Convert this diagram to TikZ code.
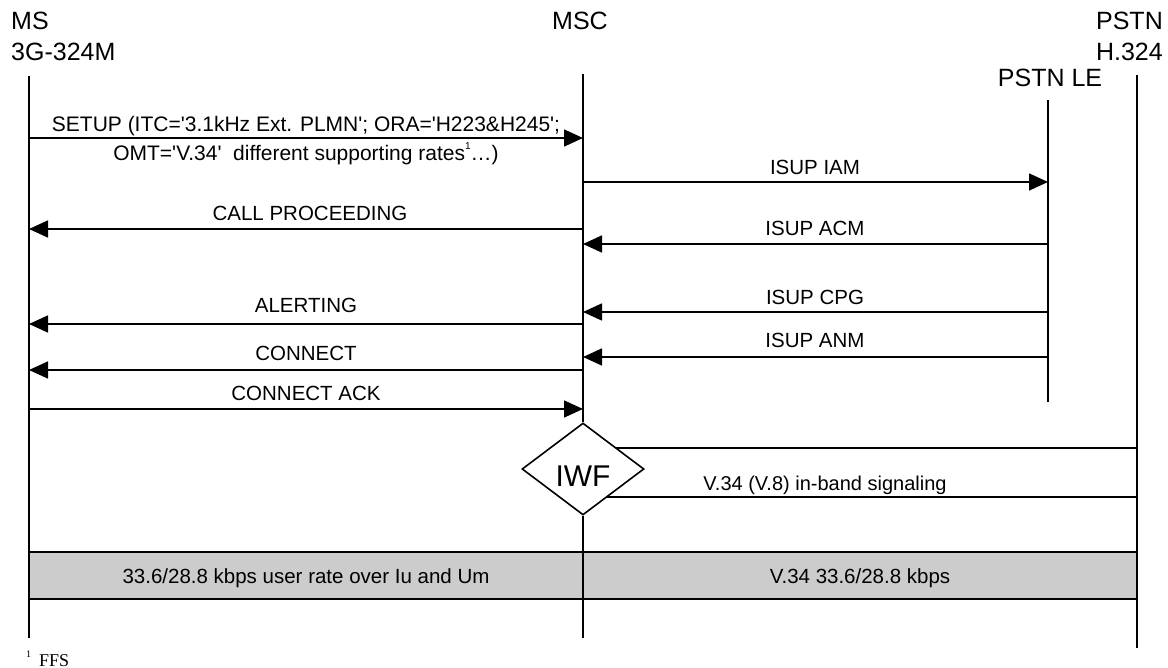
\documentclass[tikz,border=0pt]{standalone}
\usepackage{fontspec}
\setmainfont{Liberation Sans}
\newfontfamily\arialf{Liberation Sans}
\newfontfamily\ftserif{Liberation Serif}
\usetikzlibrary{arrows.meta,shapes.geometric}
\begin{document}
\begin{tikzpicture}[x=1pt,y=-1pt,
  life/.style={line width=1.7pt},
  msg/.style={line width=1.6pt,-{Triangle[length=19pt,width=17pt]}},
  lbl/.style={anchor=base,inner sep=0pt,font=\arialf\fontsize{20.5}{24}\selectfont},
  hdr/.style={inner sep=0pt,font=\arialf\fontsize{25}{30}\selectfont},
  boxline/.style={line width=1.6pt},
]
\useasboundingbox (0,0) rectangle (1168,668);

% grey bar
\coordinate (barTL) at (29,552);
\coordinate (barBR) at (1137,599);
\fill[black!20] (barTL) rectangle (barBR);
\draw[boxline] (barTL) -- (barTL -| barBR);
\draw[boxline] (barTL |- barBR) -- (barBR);
\node[lbl] (barL) at (306,583) {33.6/28.8 kbps user rate over Iu and Um};
\node[lbl] (barR) at (860,583) {V.34 33.6/28.8 kbps};

% headers
\node[hdr,anchor=base west] (msA) at (11,30) {MS};
\node[hdr,anchor=base west] (msB) at (11,61) {3G-324M};
\node[hdr,anchor=base] (mscH) at (580,30) {MSC};
\node[hdr,anchor=base east] (pstnA) at (1163,30) {PSTN};
\node[hdr,anchor=base east] (pstnB) at (1163,61) {H.324};
\node[hdr,anchor=base] (leH) at (1050,87) {PSTN LE};

% IWF
\node[diamond,draw,line width=1.6pt,minimum width=122pt,minimum height=92pt,inner sep=0pt,fill=white] (iwf) at (583,469) {};
\node[inner sep=0pt,anchor=base,font=\arialf\fontsize{30}{30}\selectfont] (iwft) at (583,486) {IWF};

% lifelines
\coordinate (msT) at (29,76);  \coordinate (msE) at (29,638);
\coordinate (mscT) at (583,74); \coordinate (mscE) at (583,638);
\coordinate (leT) at (1048,100); \coordinate (leE) at (1048,402);
\coordinate (psT) at (1137,75); \coordinate (psE) at (1137,648);
\draw[life] (msT) -- (msE);
\draw[life] (mscT) -- (iwf.north);
\draw[life] (iwf.south) -- (mscE);
\draw[life] (leT) -- (leE);
\draw[life] (psT) -- (psE);

% in-band box
\coordinate (rT) at (616,448);
\coordinate (rTR) at (1137,448);
\coordinate (rBR) at (1137,497);
\coordinate (rB) at (607,497);
\draw[boxline] (rT) -- (rTR) -- (rBR) -- (rB);
\node[lbl,font=\arialf\fontsize{20}{24}\selectfont] (inb) at (825,490) {V.34 (V.8) in-band signaling};

% messages
\coordinate (m1a) at (29,138);   \coordinate (m1b) at (583,138);
\draw[msg] (m1a) -- (m1b);
\node[lbl,font=\arialf\fontsize{21}{24}\selectfont] (l1a) at (306,132) {SETUP (ITC='3.1kHz Ext. PLMN'; ORA='H223\&H245';};
\node[lbl,font=\arialf\fontsize{21}{24}\selectfont] (l1b) at (306,161) {OMT='V.34'\ \ different supporting rates\raisebox{0.55em}{\fontsize{10}{10}\selectfont 1}…)};

\coordinate (m2a) at (583,182);  \coordinate (m2b) at (1048,182);
\draw[msg] (m2a) -- (m2b);
\node[lbl] (l2) at (815,175) {ISUP IAM};

\coordinate (m3a) at (583,229);  \coordinate (m3b) at (29,229);
\draw[msg] (m3a) -- (m3b);
\node[lbl] (l3) at (310,221) {CALL PROCEEDING};

\coordinate (m4a) at (1048,244); \coordinate (m4b) at (583,244);
\draw[msg] (m4a) -- (m4b);
\node[lbl] (l4) at (815,236) {ISUP ACM};

\coordinate (m5a) at (1048,312); \coordinate (m5b) at (583,312);
\draw[msg] (m5a) -- (m5b);
\node[lbl] (l5) at (815,305) {ISUP CPG};

\coordinate (m6a) at (583,324);  \coordinate (m6b) at (29,324);
\draw[msg] (m6a) -- (m6b);
\node[lbl] (l6) at (306,313) {ALERTING};

\coordinate (m7a) at (1048,357); \coordinate (m7b) at (583,357);
\draw[msg] (m7a) -- (m7b);
\node[lbl] (l7) at (815,348) {ISUP ANM};

\coordinate (m8a) at (583,370);  \coordinate (m8b) at (29,370);
\draw[msg] (m8a) -- (m8b);
\node[lbl] (l8) at (306,361) {CONNECT};

\coordinate (m9a) at (29,409);   \coordinate (m9b) at (583,409);
\draw[msg] (m9a) -- (m9b);
\node[lbl] (l9) at (306,400) {CONNECT ACK};

% footnote
\node[inner sep=0pt,anchor=base west,font=\ftserif\fontsize{10}{12}\selectfont] (fn1) at (26,657) {1};
\node[inner sep=0pt,anchor=base west,font=\ftserif\fontsize{18}{20}\selectfont] (fn2) at (39,666) {FFS};
\end{tikzpicture}
\end{document}
